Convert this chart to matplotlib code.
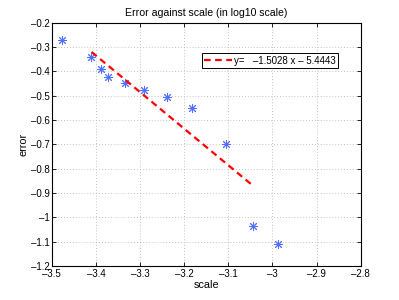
import numpy as np
import matplotlib
matplotlib.use('Agg')
import matplotlib.pyplot as plt

# scale vs error (log10 values)
scale = [-3.476, -3.411, -3.388, -3.372, -3.335, -3.292, -3.240, -3.1825, -3.105, -3.044, -2.987]
error = [-0.270, -0.342, -0.389, -0.422, -0.447, -0.477, -0.505, -0.549, -0.697, -1.034, -1.111]

# fitted line y = a*x + b, drawn over this x range
a, b = -1.5028, -5.4443
fit_x = [-3.41, -3.044]

xticks = [-3.5, -3.4, -3.3, -3.2, -3.1, -3.0, -2.9, -2.8]
yticks = [-1.2, -1.1, -1.0, -0.9, -0.8, -0.7, -0.6, -0.5, -0.4, -0.3, -0.2]
xlabels = ['\u20133.5', '\u20133.4', '\u20133.3', '\u20133.2', '\u20133.1', '\u20133', '\u20132.9', '\u20132.8']
ylabels = ['\u20131.2', '\u20131.1', '\u20131', '\u20130.9', '\u20130.8', '\u20130.7',
           '\u20130.6', '\u20130.5', '\u20130.4', '\u20130.3', '\u20130.2']

plt.rcParams['font.family'] = ['Liberation Sans', 'DejaVu Sans']

fig = plt.figure(figsize=(3.99, 3.0), dpi=100)
ax = fig.add_axes([0.130, 0.113, 0.774, 0.811])

ax.plot(scale, error, linestyle='none', marker=(8, 2, 0), markersize=6.5,
        markeredgewidth=0.7, color='#5070ff')
fx = np.array(fit_x)
ax.plot(fx, a * fx + b, color='red', linestyle=(0, (3, 2)), linewidth=1.6,
        label='y=   \u20131.5028 x \u2013 5.4443')

ax.set_xlim(-3.5, -2.8)
ax.set_ylim(-1.2, -0.2)
ax.set_xticks(xticks)
ax.set_yticks(yticks)
ax.set_xticklabels(xlabels)
ax.set_yticklabels(ylabels)
ax.tick_params(direction='in', top=True, right=True, labelsize=7, length=3, width=0.6)
ax.tick_params(axis='x', pad=2)
ax.tick_params(axis='y', pad=1.5)
ax.grid(True, linestyle=(0, (1, 2.5)), color='#b0b0b0', linewidth=0.6)
for s in ax.spines.values():
    s.set_linewidth(0.8)

ax.set_title('Error against scale (in log10 scale)', fontsize=7.6, pad=5)
ax.set_xlabel('scale', fontsize=7.8, labelpad=1)
ax.set_ylabel('error', fontsize=7.8, labelpad=2)

leg = ax.legend(loc='upper right', bbox_to_anchor=(0.926, 0.875), fontsize=7, fancybox=False,
                framealpha=1, edgecolor='black', handlelength=2.9, borderpad=0.25,
                handletextpad=0.15, borderaxespad=0)
leg.get_frame().set_linewidth(0.7)

fig.savefig('out.png', dpi=100)
